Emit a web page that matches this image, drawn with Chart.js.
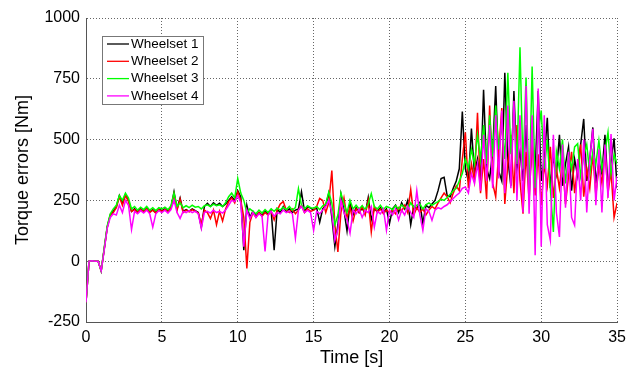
<!DOCTYPE html>
<html>
<head>
<meta charset="utf-8">
<script src="https://cdn.jsdelivr.net/npm/chart.js@4.4.1/dist/chart.umd.min.js"></script>
<style>
    html, body { margin: 0; padding: 0; background: #fff; }
    #wrap { width: 632px; height: 374px; }
</style>
</head>
<body>
<div id="wrap"><canvas id="torqueChart"></canvas></div>
<script>
// sampled every 0.2 s, one row = 5 s
const ws1 = [
    -170, 0, 2, 0, 0, -40, 50, 140, 190, 205, 225, 270, 240, 275, 250, 205, 215, 200, 215, 205, 218, 203, 212, 200, 215,
    208, 215, 205, 220, 285, 215, 260, 205, 212, 205, 215, 208, 200, 140, 225, 238, 225, 240, 230, 238, 225, 235, 250, 265, 250,
    290, 265, 45, 230, 180, 205, 185, 200, 190, 205, 195, 210, 45, 215, 200, 225, 205, 215, 200, 210, 215, 285, 205, 225, 218,
    210, 220, 160, 215, 230, 280, 180, 60, 150, 275, 210, 125, 240, 190, 220, 200, 218, 195, 262, 170, 215, 205, 220, 200, 215,
    155, 215, 230, 200, 240, 215, 250, 150, 225, 215, 240, 155, 230, 220, 235, 250, 290, 340, 345, 270, 265, 300, 330, 380, 615,
    380, 330, 545, 360, 420, 320, 705, 380, 340, 450, 720, 370, 330, 775, 420, 310, 700, 380, 450, 330, 560, 300, 480, 360, 700,
    330, 420, 590, 300, 430, 360, 520, 310, 400, 470, 290, 420, 350, 480, 585, 330, 420, 550, 320, 410, 360, 520, 300, 410, 505,
    300
];
const ws2 = [
    -170, 0, 2, 0, 0, -40, 50, 140, 190, 200, 220, 265, 230, 270, 245, 205, 212, 200, 213, 203, 215, 200, 210, 198, 212,
    205, 212, 203, 218, 275, 210, 255, 200, 210, 203, 212, 205, 198, 150, 210, 200, 175, 210, 150, 205, 165, 215, 245, 260, 240,
    285, 250, 180, -30, 160, 200, 180, 200, 185, 200, 190, 205, 170, 210, 235, 245, 210, 200, 215, 195, 210, 230, 200, 215, 205,
    210, 225, 258, 250, 200, 240, 373, 150, 38, 200, 260, 180, 220, 165, 215, 200, 225, 190, 250, 120, 225, 200, 215, 195, 210,
    200, 210, 195, 220, 205, 230, 200, 295, 190, 220, 200, 215, 190, 210, 225, 215, 240, 260, 280, 265, 240, 280, 310, 290, 420,
    530, 300, 400, 330, 610, 280, 420, 255, 640, 320, 265, 450, 630, 235, 400, 520, 280, 560, 330, 195, 450, 250, 500, 270, 440,
    230, 400, 310, 470, 260, 380, 300, 420, 235, 350, 450, 280, 390, 480, 265, 380, 300, 440, 270, 390, 320, 450, 280, 370, 180,
    240
];
const ws3 = [
    -170, 0, 2, 0, 0, -40, 55, 145, 195, 215, 230, 270, 250, 280, 260, 215, 225, 210, 222, 212, 225, 210, 220, 208, 220,
    215, 222, 212, 228, 280, 225, 240, 220, 228, 220, 230, 222, 225, 215, 228, 232, 225, 235, 228, 232, 225, 240, 265, 280, 260,
    340, 280, 250, 200, 215, 205, 195, 210, 198, 212, 200, 215, 205, 218, 210, 222, 212, 225, 210, 220, 298, 230, 215, 228, 220,
    218, 225, 212, 228, 235, 284, 240, 150, 190, 280, 235, 200, 250, 215, 230, 215, 228, 212, 235, 278, 225, 215, 230, 212, 225,
    220, 212, 228, 215, 232, 220, 215, 240, 222, 230, 235, 215, 232, 240, 230, 238, 245, 255, 250, 262, 275, 290, 300, 330, 360,
    420, 380, 460, 400, 520, 420, 560, 400, 600, 430, 640, 460, 560, 420, 775, 440, 620, 400, 880, 380, 755, 250, 800, 300, 520,
    620, 380, 500, 300, 120, 450, 380, 500, 320, 440, 380, 470, 483, 350, 430, 480, 360, 450, 400, 496, 380, 450, 530, 360, 440,
    400
];
const ws4 = [
    -170, 0, 2, 0, 0, -40, 45, 135, 180, 195, 190, 230, 200, 250, 230, 130, 205, 195, 208, 198, 210, 195, 140, 195, 208,
    200, 210, 198, 212, 250, 200, 176, 205, 200, 208, 200, 206, 195, 135, 200, 205, 198, 210, 200, 205, 198, 210, 230, 250, 245,
    270, 240, 60, 210, 175, 200, 180, 195, 185, 40, 190, 205, 185, 200, 195, 210, 200, 205, 195, 94, 210, 225, 200, 210, 200,
    127, 205, 195, 210, 225, 250, 200, 86, 130, 250, 200, 170, 115, 210, 195, 215, 180, 210, 200, 225, 140, 205, 195, 215, 127,
    210, 190, 215, 170, 210, 190, 225, 200, 180, 290, 190, 127, 215, 205, 168, 210, 220, 215, 225, 232, 245, 258, 270, 280, 300,
    305, 280, 360, 320, 400, 290, 520, 330, 560, 300, 600, 340, 620, 280, 640, 300, 660, 250, 600, 200, 720, 195, 600, 25, 710,
    60, 600, 150, 86, 520, 200, 100, 480, 220, 450, 180, 148, 420, 250, 500, 200, 420, 544, 230, 460, 200, 480, 260, 523, 250,
    350
];
const names = ["Wheelset 1", "Wheelset 2", "Wheelset 3", "Wheelset 4"];
const colors = ["#000000", "#ff0000", "#00ff00", "#ff00ff"];
const TIME_STEP = 0.2;
const time = ws1.map((_, i) => +(i * TIME_STEP).toFixed(1));

const FONT = "'Liberation Sans', Arial, sans-serif";

function toPoints(values) {
    return values.map((v, i) => ({ x: time[i], y: v }));
}

// legend box drawn inside the plot, top left like the matlab figure
const boxLegend = {
    id: "boxLegend",
    afterDraw(chart) {
        const c = chart.ctx;
        const area = chart.chartArea;
        const x = area.left + 16;
        const y = area.top + 18;
        const w = 101, h = 68, rowH = 17.3;
        c.save();
        c.fillStyle = "#fff";
        c.fillRect(x, y, w, h);
        c.strokeStyle = "#777";
        c.lineWidth = 1;
        c.strokeRect(x + 0.5, y + 0.5, w, h);
        c.font = "13.5px " + FONT;
        c.textBaseline = "middle";
        chart.data.datasets.forEach((ds, i) => {
            const cy = y + 8 + i * rowH;
            c.strokeStyle = ds.borderColor;
            c.lineWidth = 1.3;
            c.beginPath();
            c.moveTo(x + 5, cy);
            c.lineTo(x + 27, cy);
            c.stroke();
            c.fillStyle = "#000";
            c.fillText(ds.label, x + 29, cy);
        });
        c.restore();
    }
};

const datasets = [ws1, ws2, ws3, ws4].map((vals, i) => ({
    label: names[i],
    data: toPoints(vals),
    borderColor: colors[i],
    backgroundColor: colors[i],
    borderWidth: 1.5,
    pointRadius: 0,
    tension: 0,
    order: 3 - i,
}));

const myChart = new Chart(document.getElementById("torqueChart"), {
    type: "line",
    data: { datasets: datasets },
    options: {
        responsive: true,
        maintainAspectRatio: false,
        animation: false,
        layout: { padding: { top: 18, right: 12, left: 0, bottom: 0 } },
        plugins: {
            legend: { display: false },
            tooltip: { enabled: false },
        },
        scales: {
            x: {
                type: "linear",
                min: 0,
                max: 35,
                ticks: { stepSize: 5, color: "#000", padding: 6, font: { family: FONT, size: 16 }, callback: (v) => String(v) },
                grid: { color: "#666", lineWidth: 1, drawTicks: false },
                border: { color: "#555", width: 1, dash: [1, 2] },
                title: { display: true, text: "Time [s]", color: "#000", padding: { top: 0, bottom: 5 }, font: { family: FONT, size: 18 } },
                afterFit(scale) { scale.height = 52; },
            },
            y: {
                min: -250,
                max: 1000,
                ticks: { stepSize: 250, color: "#000", padding: 6, font: { family: FONT, size: 16 }, callback: (v) => String(v) },
                grid: { color: "#666", lineWidth: 1, drawTicks: false },
                border: { color: "#555", width: 1, dash: [1, 2] },
                title: { display: true, text: "Torque errors [Nm]", color: "#000", padding: { top: 12, bottom: 0 }, font: { family: FONT, size: 18 } },
                afterFit(scale) { scale.width = 86; },
            },
        },
    },
    plugins: [boxLegend],
});
</script>
</body>
</html>
